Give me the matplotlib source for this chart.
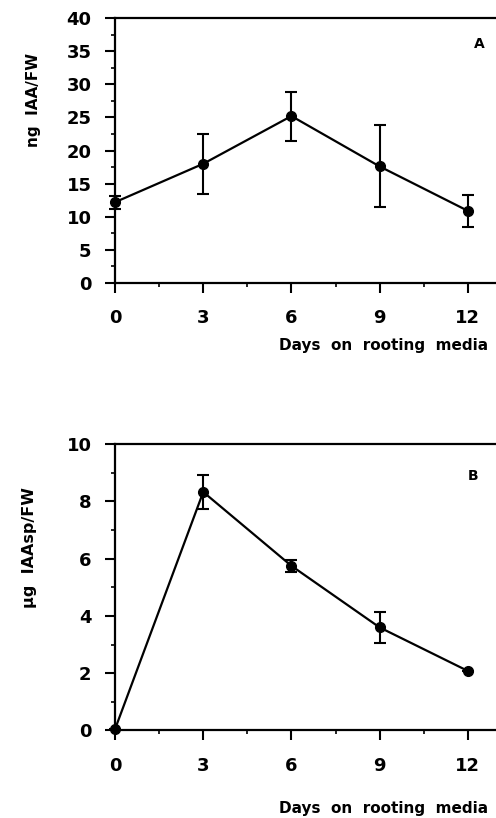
import numpy as np
import matplotlib.pyplot as plt
from matplotlib.ticker import MultipleLocator

# Data
days = [0, 3, 6, 9, 12]
iaa = [12.2, 18.0, 25.2, 17.6, 10.9]
iaa_err = [1.0, 4.5, 3.7, 6.2, 2.4]
iaasp = [0.05, 8.33, 5.75, 3.6, 2.08]
iaasp_err = [0.0, 0.6, 0.2, 0.53, 0.0]

plt.rcParams['font.family'] = ['DejaVu Sans']
plt.rcParams['font.weight'] = 'bold'

fig = plt.figure(figsize=(4.96, 8.18), dpi=100)
ax1 = fig.add_axes([0.232, 0.654, 0.768, 0.324])
ax2 = fig.add_axes([0.232, 0.107, 0.768, 0.350])


def style(ax, ymax, ymajor, yminor):
    ax.set_xlim(0, 12.96)
    ax.set_ylim(0, ymax)
    ax.xaxis.set_major_locator(MultipleLocator(3))
    ax.xaxis.set_minor_locator(MultipleLocator(1.5))
    ax.yaxis.set_major_locator(MultipleLocator(ymajor))
    ax.yaxis.set_minor_locator(MultipleLocator(yminor))
    ax.spines['right'].set_visible(False)
    for s in ['left', 'bottom', 'top']:
        ax.spines[s].set_linewidth(1.6)
    ax.tick_params(which='major', length=7, width=1.5, labelsize=13, pad=10)
    ax.tick_params(which='minor', length=3, width=1.2)
    ax.tick_params(axis='x', which='major', pad=12)
    for lab in ax.get_xticklabels() + ax.get_yticklabels():
        lab.set_fontweight('bold')


label = 'Days  on  rooting  media'

ax1.errorbar(days, iaa, yerr=iaa_err, color='black', lw=1.6, marker='o',
             ms=7, capsize=4, elinewidth=1.5, capthick=1.5, clip_on=False)
style(ax1, 40, 5, 2.5)
ax1.set_ylabel('ng  IAA/FW', fontsize=11, fontweight='bold')
ax1.yaxis.set_label_coords(-0.195, 0.69)
ax1.text(0.955, 0.9, 'A', transform=ax1.transAxes, fontsize=10,
         fontweight='bold', ha='center', va='center')
fig.text(0.985, 0.578, label, fontsize=11,
         fontweight='bold', ha='right', va='center')

ax2.errorbar(days, iaasp, yerr=iaasp_err, color='black', lw=1.6, marker='o',
             ms=7, capsize=4, elinewidth=1.5, capthick=1.5, clip_on=False)
style(ax2, 10, 2, 1)
ax2.set_ylabel('\u03bcg  IAAsp/FW', fontsize=11.5, fontweight='bold')
ax2.yaxis.set_label_coords(-0.205, 0.64)
ax2.text(0.94, 0.89, 'B', transform=ax2.transAxes, fontsize=10,
         fontweight='bold', ha='center', va='center')
fig.text(0.985, 0.012, label, fontsize=11,
         fontweight='bold', ha='right', va='center')

fig.savefig('out.png', dpi=100)
